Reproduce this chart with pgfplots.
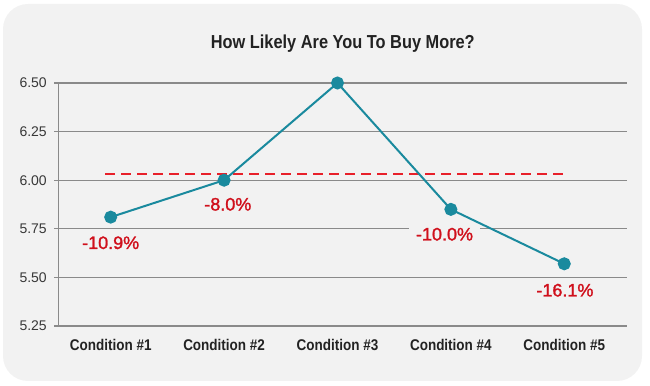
\documentclass[border=0pt]{standalone}
\usepackage{fontspec}
\setmainfont{Liberation Sans}
\newfontfamily\condfont[FakeStretch=0.87]{Liberation Sans}
\newfontfamily\labfont[FakeBold=1.5]{Liberation Sans}
\usepackage{pgfplots}
\pgfplotsset{compat=1.18}
\definecolor{panel}{HTML}{F2F2F2}
\definecolor{teal}{HTML}{1A8A9E}
\definecolor{dashred}{HTML}{E8202A}
\definecolor{labred}{HTML}{D0101C}
\definecolor{gridgray}{HTML}{8A8A8A}
\definecolor{txt}{HTML}{222222}
\tikzset{lab/.style={text=labred, fill=panel, inner xsep=7bp, inner ysep=1bp, font=\labfont\fontsize{18bp}{20bp}\selectfont}}
\begin{document}
\begin{tikzpicture}
\useasboundingbox (0bp,0bp) rectangle (650bp,386bp);
\fill[panel, rounded corners=25bp] (3bp,5bp) rectangle (642bp,382bp);
\node[font=\condfont\bfseries\fontsize{18.8bp}{22bp}\selectfont, text=txt] at (342.8bp,342bp) {How Likely Are You To Buy More?};
\begin{axis}[
  at={(58.3bp,60bp)}, anchor=south west,
  scale only axis, width=569bp, height=243bp,
  xmin=-0.462, xmax=4.556,
  ymin=5.25, ymax=6.5,
  axis x line=bottom, axis y line=left,
  axis line style={-, gridgray, line width=1.3bp},
  xtick={0,1,2,3,4},
  xticklabels={Condition \#1, Condition \#2, Condition \#3, Condition \#4, Condition \#5},
  xtick style={draw=none},
  ytick={5.25,5.5,5.75,6,6.25,6.5},
  ymajorgrids,
  major grid style={gridgray, line width=1.3bp},
  tick align=outside,
  major tick length=4bp,
  ytick style={gridgray, line width=1.3bp},
  /pgf/number format/fixed,
  /pgf/number format/fixed zerofill,
  /pgf/number format/precision=2,
  /pgf/number format/assume math mode=true,
  yticklabel style={font=\fontsize{14bp}{16bp}\selectfont, text=txt!90, xshift=-4bp},
  xticklabel style={font=\condfont\bfseries\fontsize{15.5bp}{18bp}\selectfont, text=txt, yshift=-6bp},
  clip=false,
]
\addplot[dashred, line width=2bp, dash pattern=on 10bp off 6bp] coordinates {(-0.05,6.03) (4.01,6.03)};
\node[lab] at (axis cs:0,5.678) {-10.9\%};
\node[lab] at (axis cs:1.033,5.876) {-8.0\%};
\node[lab] at (axis cs:2.944,5.722) {-10.0\%};
\node[lab] at (axis cs:4.006,5.434) {-16.1\%};
\addplot[teal, line width=2bp, mark=*, mark size=5.5bp, mark options={fill=teal, draw=none}]
  coordinates {(0,5.81) (1,6.00) (2,6.50) (3,5.85) (4,5.57)};
\end{axis}
\end{tikzpicture}
\end{document}
